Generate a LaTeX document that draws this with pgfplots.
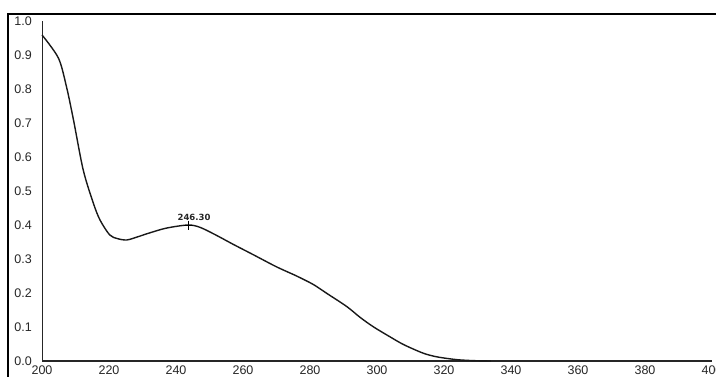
\documentclass[border=0pt]{standalone}
\usepackage{fontspec}
\setmainfont{Liberation Sans}
\newfontfamily\labfont{DejaVu Sans}
\usepackage{pgfplots}
\pgfplotsset{compat=1.18}
\begin{document}
\begin{tikzpicture}
\begin{axis}[
  at={(42pt,15pt)}, anchor=south west,
  scale only axis, width=670pt, height=340pt,
  xmin=200, xmax=400, ymin=0, ymax=1,
  axis x line=bottom, axis y line=left,
  x axis line style={-, line width=1.6pt, color=black!85},
  y axis line style={-, line width=0.8pt, color=black!85},
  xtick={200,220,...,400}, ytick={0,0.1,...,1.0},
  major tick length=0pt,
  tick label style={font=\fontsize{12.5}{14}\selectfont, inner sep=0pt, text=black!85},
  xticklabel style={yshift=-5pt},
  yticklabel style={xshift=-10pt},
  /pgf/number format/assume math mode=true,
  yticklabel={\pgfmathprintnumber[fixed,fixed zerofill,precision=1]{\tick}},
  xticklabel={\pgfmathprintnumber[fixed,precision=0]{\tick}},
  clip=false,
]
\addplot[black!90, line width=1.4pt, smooth, tension=0.5] coordinates {
(200,0.959) (204.9,0.891) (207.3,0.807) (209.4,0.709) (212.3,0.562)
(215.3,0.465) (217.3,0.415) (220.2,0.371) (222.5,0.360) (225.3,0.356)
(228.5,0.365) (232.2,0.377) (237.2,0.391) (243.6,0.400) (247.2,0.393)
(252,0.370) (257.1,0.343) (263,0.313) (270,0.277) (276,0.250)
(281,0.225) (285,0.199) (291,0.160) (295,0.128) (299,0.100)
(303.9,0.071) (308,0.048) (313.8,0.023) (318,0.012) (323.8,0.004)
(329,0.001) (334,0.0)
};
\addplot[only marks, mark=+, mark size=4.5pt, black, line width=0.7pt] coordinates {(243.6,0.400)}
  node[pos=0, above, xshift=6pt, yshift=3pt, inner sep=1pt, font=\labfont\bfseries\fontsize{8.5}{10}\selectfont, text=black!85] {246.30};
\end{axis}
\draw[line width=2.5pt] (8pt,-20pt) -- (8pt,362pt) -- (740pt,362pt);
\pgfresetboundingbox
\path[use as bounding box] (0,0) rectangle (716pt,376pt);
\end{tikzpicture}
\end{document}
